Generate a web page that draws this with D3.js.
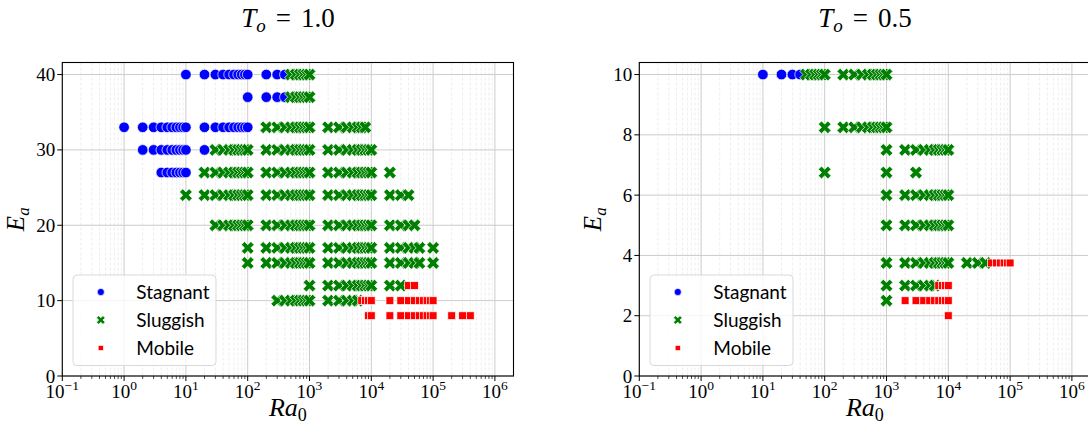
<!DOCTYPE html>
<html><head><meta charset="utf-8">
<script src="https://cdn.jsdelivr.net/npm/d3@7"></script>
<style>
html,body{margin:0;padding:0;background:#fff;}
svg{display:block;}
</style></head>
<body>
<svg id="chart" width="1088" height="427"></svg>
<script>
// ---------------- DATA ----------------
// each entry: [Ea, [Ra0 values...]]
const left_stagnant = [
  [40, [10,20,30,40,50,60,70,80,90,100,200,300,400]],
  [37, [100,200,300,400]],
  [33, [1,2,3,4,5,6,7,8,9,10,20,30,40,50,60,70,80,90,100]],
  [30, [2,3,4,5,6,7,8,9,10,20]],
  [27, [4,5,6,7,8,9,10]]
];
const left_sluggish = [
  [40, [500,600,700,800,900,1000]],
  [37, [500,600,700,800,900,1000]],
  [33, [200,300,400,500,600,700,800,900,1000,2000,3000,4000,5000,6000,7000,8000]],
  [30, [30,40,50,60,70,80,90,100,200,300,400,500,600,700,800,900,1000,2000,3000,4000,5000,6000,7000,8000,9000,10000]],
  [27, [20,30,40,50,60,70,80,90,100,200,300,400,500,600,700,800,900,1000,2000,3000,4000,5000,6000,7000,8000,9000,10000,20000]],
  [24, [10,20,30,40,50,60,70,80,90,100,200,300,400,500,600,700,800,900,1000,2000,3000,4000,5000,6000,7000,8000,9000,10000,20000,30000,40000]],
  [20, [30,40,50,60,70,80,90,100,200,300,400,500,600,700,800,900,1000,2000,3000,4000,5000,6000,7000,8000,9000,10000,20000,30000,40000,50000]],
  [17, [100,200,300,400,500,600,700,800,900,1000,2000,3000,4000,5000,6000,7000,8000,9000,10000,20000,30000,40000,50000,60000,100000]],
  [15, [100,200,300,400,500,600,700,800,900,1000,2000,3000,4000,5000,6000,7000,8000,9000,10000,20000,30000,40000,50000,60000,100000]],
  [12, [1000,2000,3000,4000,5000,6000,7000,8000,9000,10000,20000,30000]],
  [10, [300,400,500,600,700,800,900,1000,2000,3000,4000,5000,6000]]
];
const left_mobile = [
  [12, [40000,50000]],
  [10, [7000,8000,9000,10000,20000,30000,40000,50000,60000,70000,80000,90000,100000]],
  [8,  [9000,10000,20000,30000,40000,50000,60000,70000,80000,90000,100000,200000,300000,400000]]
];
const right_stagnant = [
  [10, [10,20,30,40]]
];
const right_sluggish = [
  [10,   [50,60,70,80,90,100,200,300,400,500,600,700,800,900,1000]],
  [8.25, [100,200,300,400,500,600,700,800,900,1000]],
  [7.5,  [1000,2000,3000,4000,5000,6000,7000,8000,9000,10000]],
  [6.75, [100,1000,3000]],
  [6,    [1000,2000,3000,4000,5000,6000,7000,8000,9000,10000]],
  [5,    [1000,2000,3000,4000,5000,6000,7000,8000,9000,10000]],
  [3.75, [1000,2000,3000,4000,5000,6000,7000,8000,9000,10000,20000,30000,40000]],
  [3,    [1000,2000,3000,4000,5000,6000]],
  [2.5,  [1000]]
];
const right_mobile = [
  [3.75, [50000,60000,70000,80000,90000,100000]],
  [3,    [7000,8000,9000,10000]],
  [2.5,  [2000,3000,4000,5000,6000,7000,8000,9000,10000]],
  [2,    [10000]]
];
const titles = ["1.0", "0.5"];
const xTicks = [1e-1,1e0,1e1,1e2,1e3,1e4,1e5,1e6];
const xTickExp = ["\u22121","0","1","2","3","4","5","6"];
const leftYTicks = [0,10,20,30,40];
const rightYTicks = [0,2,4,6,8,10];
const legendLabels = ["Stagnant","Sluggish","Mobile"];
const colors = {Stagnant:"#0000ff", Sluggish:"#008000", Mobile:"#ff0000"};

// ---------------- LAYOUT ----------------
const svg = d3.select("#chart");
const plotW = 451.2, topY = 62.5, bottomY = 376;
const serif = "'Liberation Serif', 'DejaVu Serif', serif";
const sans = "Lato, 'Open Sans', sans-serif";

function flatten(rows, kind){
  const out = [];
  rows.forEach(([ea, ras]) => ras.forEach(ra => out.push({ra, ea, kind})));
  return out;
}

// X marker path (matplotlib filled 'X')
function xPath(s){
  const a = 0.5*s, w = s/6;
  const pts = [[w,a],[w,w],[a,w],[a,-w],[w,-w],[w,-a],[-w,-a],[-w,-w],[-a,-w],[-a,w],[-w,w],[-w,a]];
  const c = Math.SQRT1_2;
  return "M" + pts.map(([x,y]) => [(x - y)*c, (x + y)*c].map(v=>v.toFixed(2)).join(",")).join("L") + "Z";
}

function drawMarker(g, kind, x, y, scale){
  if(kind === "Stagnant"){
    g.append("circle").attr("cx",x).attr("cy",y).attr("r",5.3*scale)
      .attr("fill",colors.Stagnant).attr("stroke","#fff").attr("stroke-width",0.7);
  } else if(kind === "Sluggish"){
    g.append("path").attr("d", xPath(13.5*scale)).attr("transform",`translate(${x},${y})`)
      .attr("fill",colors.Sluggish).attr("stroke","#fff").attr("stroke-width",0.7);
  } else {
    const s = 7.8*scale;
    g.append("rect").attr("x",x-s/2).attr("y",y-s/2).attr("width",s).attr("height",s)
      .attr("fill",colors.Mobile).attr("stroke","#fff").attr("stroke-width",0.7);
  }
}

function panel(x0, yMax, yTicks, title, stag, slug, mob){
  const x = d3.scaleLog().domain([0.1, 2e6]).range([x0, x0 + plotW]);
  const y = d3.scaleLinear().domain([0, yMax]).range([bottomY, topY]);
  const g = svg.append("g");

  const minor = [];
  for(let k=-1;k<=6;k++) for(let m=2;m<=9;m++){ const v=m*Math.pow(10,k); if(v<2e6) minor.push(v); }
  g.selectAll(".mg").data(minor).enter().append("line")
    .attr("x1",d=>x(d)).attr("x2",d=>x(d)).attr("y1",topY).attr("y2",bottomY)
    .attr("stroke","#e9e9e9").attr("stroke-width",0.8).attr("stroke-dasharray","3,2");
  g.selectAll(".gx").data(xTicks).enter().append("line")
    .attr("x1",d=>x(d)).attr("x2",d=>x(d)).attr("y1",topY).attr("y2",bottomY)
    .attr("stroke","#cccccc").attr("stroke-width",1);
  g.selectAll(".gy").data(yTicks).enter().append("line")
    .attr("x1",x0).attr("x2",x0+plotW).attr("y1",d=>y(d)).attr("y2",d=>y(d))
    .attr("stroke","#cccccc").attr("stroke-width",1);

  const pts = flatten(stag,"Stagnant").concat(flatten(slug,"Sluggish"), flatten(mob,"Mobile"));
  pts.sort((a,b)=>a.ra-b.ra);
  const pg = g.append("g");
  pts.forEach(p => drawMarker(pg, p.kind, x(p.ra), y(p.ea), 1));

  g.append("rect").attr("x",x0).attr("y",topY).attr("width",plotW).attr("height",bottomY-topY)
    .attr("fill","none").attr("stroke","#000").attr("stroke-width",1.1);

  g.selectAll(".xt").data(xTicks).enter().append("line")
    .attr("x1",d=>x(d)).attr("x2",d=>x(d)).attr("y1",bottomY).attr("y2",bottomY+5)
    .attr("stroke","#000").attr("stroke-width",1);
  g.selectAll(".xm").data(minor).enter().append("line")
    .attr("x1",d=>x(d)).attr("x2",d=>x(d)).attr("y1",bottomY).attr("y2",bottomY+3)
    .attr("stroke","#000").attr("stroke-width",0.7);
  xTicks.forEach((t,i)=>{
    const tx = g.append("text").attr("x",x(t)).attr("y",398).attr("text-anchor","middle")
      .attr("font-family",serif).attr("font-size",19).attr("fill","#000");
    tx.append("tspan").text("10");
    tx.append("tspan").attr("dy",-8).attr("font-size",13.5).text(xTickExp[i]);
  });
  g.selectAll(".yt").data(yTicks).enter().append("line")
    .attr("x1",x0-5).attr("x2",x0).attr("y1",d=>y(d)).attr("y2",d=>y(d))
    .attr("stroke","#000").attr("stroke-width",1);
  g.selectAll(".yl").data(yTicks).enter().append("text")
    .attr("x",x0-7).attr("y",d=>y(d)+6.5).attr("text-anchor","end")
    .attr("font-family",serif).attr("font-size",19).attr("fill","#000").text(d=>d);

  const xl = g.append("text").attr("x",x0+plotW/2).attr("y",416).attr("text-anchor","middle")
    .attr("font-family",serif).attr("font-size",26).attr("font-style","italic");
  xl.append("tspan").text("Ra");
  xl.append("tspan").attr("dy",5).attr("font-size",18).attr("font-style","normal").text("0");
  const yl = g.append("text").attr("transform",`translate(${x0-38},${(topY+bottomY)/2}) rotate(-90)`)
    .attr("text-anchor","middle").attr("font-family",serif).attr("font-size",25).attr("font-style","italic");
  yl.append("tspan").text("E");
  yl.append("tspan").attr("dy",5).attr("font-size",17).text("a");

  const tt = g.append("text").attr("x",x0+plotW/2).attr("y",27).attr("text-anchor","middle")
    .attr("font-family",serif).attr("font-size",27);
  tt.append("tspan").attr("font-style","italic").text("T");
  tt.append("tspan").attr("font-style","italic").attr("font-size",19).attr("dy",5).text("o");
  tt.append("tspan").attr("dy",-5).attr("dx",10).text("=");
  tt.append("tspan").attr("dx",10).text(title);

  const lg = g.append("g");
  lg.append("rect").attr("x",x0+10.7).attr("y",275).attr("width",143).attr("height",90.5)
    .attr("rx",4).attr("fill","#fff").attr("fill-opacity",0.8).attr("stroke","#d9d9d9").attr("stroke-width",1);
  legendLabels.forEach((lab,i)=>{
    const ly = 292 + i*28;
    drawMarker(lg, lab, x0+38.5, ly, 0.68);
    lg.append("text").attr("x",x0+74).attr("y",ly+6.5).attr("font-family",sans).attr("font-size",19)
      .attr("fill","#000").text(lab);
  });
}

panel(62.3, 41.6, leftYTicks, titles[0], left_stagnant, left_sluggish, left_mobile);
panel(639.3, 10.4, rightYTicks, titles[1], right_stagnant, right_sluggish, right_mobile);
</script>
</body></html>
